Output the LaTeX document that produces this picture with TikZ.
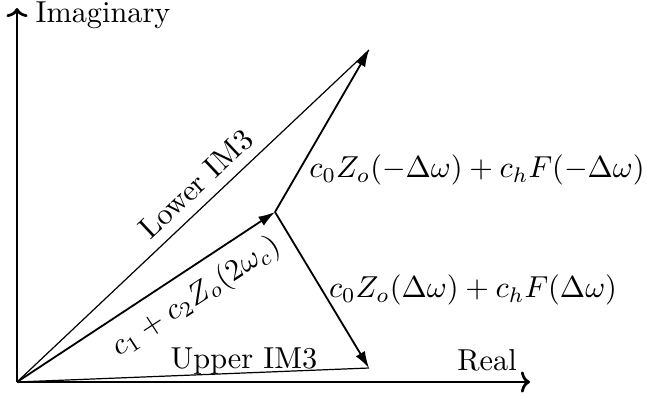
\documentclass[tikz,border=0pt]{standalone}
\usetikzlibrary{arrows.meta}
\begin{document}
\begin{tikzpicture}[x=0.33pt,y=-0.33pt,
  axis/.style={thin,-{To[length=3pt,width=7pt,line width=0.9pt]}},
  vec/.style={semithick,-{Latex[length=5.5pt,width=3.5pt]}},
  im/.style={thin},
  lbl/.style={inner sep=1pt}]
\useasboundingbox (0,0) rectangle (647,398);
\coordinate (O) at (17,382);
\coordinate (RE) at (530,382);
\coordinate (IM) at (17,8);
\coordinate (A) at (275,212);
\coordinate (B) at (369,50);
\coordinate (C) at (369,368);
\draw[axis] (O) -- (RE);
\draw[axis] (O) -- (IM);
\draw[im] (O) -- (B);
\draw[im] (O) -- (C);
\draw[vec] (O) -- (A);
\draw[vec] (A) -- (B);
\draw[vec] (A) -- (C);
\node[lbl,anchor=west] (limag) at (32,15) {Imaginary};
\node[lbl] (lreal) at (487,360) {Real};
\node[lbl,rotate=43.2] (llow) at (196,184) {Lower IM3};
\node[lbl,rotate=33] (lvec) at (196,297) {$c_1+c_2Z_o(2\omega_c)$};
\node[lbl] (lup) at (244,361) {Upper IM3};
\node[lbl] (lm) at (477,170) {$c_0Z_o(-\Delta\omega)+c_hF(-\Delta\omega)$};
\node[lbl] (lp) at (473,290) {$c_0Z_o(\Delta\omega)+c_hF(\Delta\omega)$};
\end{tikzpicture}
\end{document}
